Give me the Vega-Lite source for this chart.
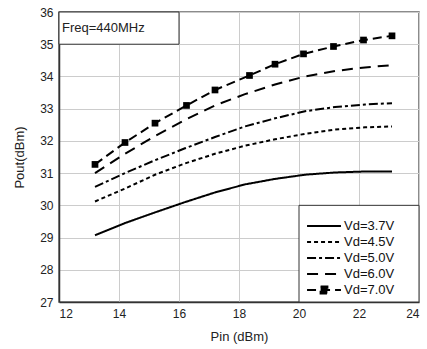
{
  "$schema": "https://vega.github.io/schema/vega-lite/v6.json",
  "width": 360,
  "height": 290,
  "autosize": {"type": "none"},
  "padding": {"left": 59, "top": 12, "right": 8, "bottom": 47},
  "background": "white",
  "config": {
    "font": "Liberation Sans",
    "view": {"stroke": "#666", "strokeWidth": 1.5},
    "axis": {
      "grid": true, "gridColor": "#cccccc", "gridWidth": 1,
      "ticks": false, "domainColor": "#333", "domainWidth": 1.5,
      "labelFontSize": 12, "labelColor": "#222", "titleFontSize": 13,
      "titleFontWeight": "normal", "titleColor": "#222", "labelPadding": 6,
      "labelOverlap": false
    }
  },
  "datasets": {
    "curves": [
      {"s": "Vd=3.7V", "pin": 13.2, "pout": 29.07},
      {"s": "Vd=3.7V", "pin": 14.2, "pout": 29.45},
      {"s": "Vd=3.7V", "pin": 15.2, "pout": 29.78},
      {"s": "Vd=3.7V", "pin": 16.2, "pout": 30.1},
      {"s": "Vd=3.7V", "pin": 17.2, "pout": 30.4},
      {"s": "Vd=3.7V", "pin": 18.2, "pout": 30.65},
      {"s": "Vd=3.7V", "pin": 19.2, "pout": 30.82},
      {"s": "Vd=3.7V", "pin": 20.2, "pout": 30.95},
      {"s": "Vd=3.7V", "pin": 21.2, "pout": 31.02},
      {"s": "Vd=3.7V", "pin": 22.2, "pout": 31.05},
      {"s": "Vd=3.7V", "pin": 23.1, "pout": 31.05},
      {"s": "Vd=4.5V", "pin": 13.2, "pout": 30.12},
      {"s": "Vd=4.5V", "pin": 14.2, "pout": 30.52},
      {"s": "Vd=4.5V", "pin": 15.2, "pout": 30.95},
      {"s": "Vd=4.5V", "pin": 16.2, "pout": 31.3},
      {"s": "Vd=4.5V", "pin": 17.2, "pout": 31.6},
      {"s": "Vd=4.5V", "pin": 18.2, "pout": 31.85},
      {"s": "Vd=4.5V", "pin": 19.2, "pout": 32.05},
      {"s": "Vd=4.5V", "pin": 20.2, "pout": 32.22},
      {"s": "Vd=4.5V", "pin": 21.2, "pout": 32.35},
      {"s": "Vd=4.5V", "pin": 22.2, "pout": 32.42},
      {"s": "Vd=4.5V", "pin": 23.1, "pout": 32.45},
      {"s": "Vd=5.0V", "pin": 13.2, "pout": 30.57},
      {"s": "Vd=5.0V", "pin": 14.2, "pout": 31.0},
      {"s": "Vd=5.0V", "pin": 15.2, "pout": 31.4},
      {"s": "Vd=5.0V", "pin": 16.2, "pout": 31.77},
      {"s": "Vd=5.0V", "pin": 17.2, "pout": 32.12},
      {"s": "Vd=5.0V", "pin": 18.2, "pout": 32.45},
      {"s": "Vd=5.0V", "pin": 19.2, "pout": 32.7},
      {"s": "Vd=5.0V", "pin": 20.2, "pout": 32.92},
      {"s": "Vd=5.0V", "pin": 21.2, "pout": 33.05},
      {"s": "Vd=5.0V", "pin": 22.2, "pout": 33.13},
      {"s": "Vd=5.0V", "pin": 23.1, "pout": 33.17},
      {"s": "Vd=6.0V", "pin": 13.2, "pout": 31.0},
      {"s": "Vd=6.0V", "pin": 14.2, "pout": 31.6},
      {"s": "Vd=6.0V", "pin": 15.2, "pout": 32.15},
      {"s": "Vd=6.0V", "pin": 16.2, "pout": 32.65},
      {"s": "Vd=6.0V", "pin": 17.2, "pout": 33.1},
      {"s": "Vd=6.0V", "pin": 18.2, "pout": 33.45},
      {"s": "Vd=6.0V", "pin": 19.2, "pout": 33.75},
      {"s": "Vd=6.0V", "pin": 20.2, "pout": 34.0},
      {"s": "Vd=6.0V", "pin": 21.2, "pout": 34.17},
      {"s": "Vd=6.0V", "pin": 22.2, "pout": 34.28},
      {"s": "Vd=6.0V", "pin": 23.1, "pout": 34.35},
      {"s": "Vd=7.0V", "pin": 13.2, "pout": 31.27},
      {"s": "Vd=7.0V", "pin": 14.2, "pout": 31.95},
      {"s": "Vd=7.0V", "pin": 15.2, "pout": 32.55},
      {"s": "Vd=7.0V", "pin": 16.25, "pout": 33.1},
      {"s": "Vd=7.0V", "pin": 17.2, "pout": 33.58},
      {"s": "Vd=7.0V", "pin": 18.35, "pout": 34.03},
      {"s": "Vd=7.0V", "pin": 19.2, "pout": 34.38},
      {"s": "Vd=7.0V", "pin": 20.15, "pout": 34.7},
      {"s": "Vd=7.0V", "pin": 21.15, "pout": 34.93},
      {"s": "Vd=7.0V", "pin": 22.15, "pout": 35.13},
      {"s": "Vd=7.0V", "pin": 23.1, "pout": 35.26}
    ],
    "boxes": [
      {"pin": 12, "pin2": 16, "pout": 35, "pout2": 36},
      {"pin": 20, "pin2": 24, "pout": 27, "pout2": 30}
    ],
    "notes": [
      {"pin": 12.1, "pout": 35.5, "t": "Freq=440MHz"}
    ]
  },
  "encoding": {
    "x": {"field": "pin", "type": "quantitative", "title": "Pin (dBm)",
          "scale": {"domain": [12, 24], "nice": false},
          "axis": {"values": [12, 14, 16, 18, 20, 22, 24], "titlePadding": 11, "labelOverlap": false}},
    "y": {"field": "pout", "type": "quantitative", "title": "Pout(dBm)",
          "scale": {"domain": [27, 36], "nice": false, "zero": false},
          "axis": {"values": [27, 28, 29, 30, 31, 32, 33, 34, 35, 36], "tickCount": 10, "titlePadding": 13, "labelOverlap": false}}
  },
  "layer": [
    {
      "data": {"name": "curves"},
      "mark": {"type": "line", "color": "black", "strokeWidth": 2},
      "encoding": {
        "detail": {"field": "s"},
        "strokeDash": {
          "field": "s", "type": "nominal",
          "scale": {
            "domain": ["Vd=3.7V", "Vd=4.5V", "Vd=5.0V", "Vd=6.0V", "Vd=7.0V"],
            "range": [[1, 0], [4, 3], [9, 3, 3, 3], [11, 7], [9, 5]]
          },
          "legend": {
            "title": null, "orient": "none", "legendX": 247, "legendY": 206,
            "symbolType": "stroke", "symbolSize": 1150, "symbolStrokeWidth": 2,
            "symbolStrokeColor": "black", "labelFontSize": 13, "labelColor": "#111",
            "labelOffset": 2, "rowPadding": 0, "padding": 0, "symbolLimit": 10,
            "clipHeight": 16,
            "encode": {
              "symbols": {
                "update": {
                  "shape": {"signal": "datum.value === 'Vd=7.0V' ? 'M-1,0H1M-0.2,-0.2H0.2V0.2H-0.2Z' : 'stroke'"},
                  "fill": {"signal": "datum.value === 'Vd=7.0V' ? 'black' : 'transparent'"},
                  "stroke": {"value": "black"},
                  "strokeWidth": {"value": 2},
                  "opacity": {"value": 1}
                }
              }
            }
          }
        }
      }
    },
    {
      "data": {"name": "curves"},
      "transform": [{"filter": "datum.s === 'Vd=7.0V'"}],
      "mark": {"type": "square", "color": "black", "filled": true, "size": 45, "opacity": 1}
    },
    {
      "data": {"name": "boxes"},
      "mark": {"type": "rect", "fill": "white", "stroke": "#333", "strokeWidth": 1},
      "encoding": {
        "x2": {"field": "pin2"},
        "y2": {"field": "pout2"}
      }
    },
    {
      "data": {"name": "notes"},
      "mark": {"type": "text", "align": "left", "baseline": "middle", "fontSize": 13, "color": "#222"},
      "encoding": {
        "text": {"field": "t"}
      }
    }
  ]
}
